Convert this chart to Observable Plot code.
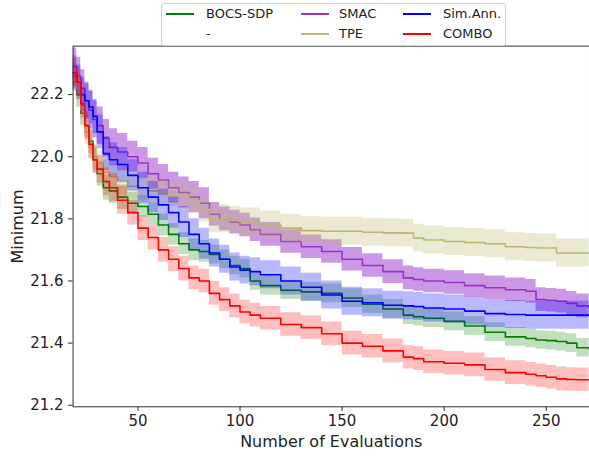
<!DOCTYPE html>
<html><head><meta charset="utf-8">
<script src="https://cdn.jsdelivr.net/npm/d3@7"></script>
<script src="https://cdn.jsdelivr.net/npm/@observablehq/plot@0.6"></script>
<style>
html,body{margin:0;padding:0;background:#fff;overflow:hidden;width:589px;height:456px}
#wrap{position:relative;width:589px;height:456px;overflow:hidden}
#legend{position:absolute;left:161px;top:2.5px;width:345px;height:43px;border:1px solid #d0d0d0;border-radius:3px;background:rgba(255,255,255,0.9);box-sizing:border-box;font-family:"DejaVu Sans";font-size:13px;color:#222}
.sw{position:absolute;width:28px;height:2px}
.lt{position:absolute;line-height:16px;white-space:nowrap}
svg g[aria-label="x-axis label"] text, svg g[aria-label="y-axis label"] text{font-size:16px}
</style></head>
<body><div id="wrap"><div id="chart"></div><div id="legend"></div></div>
<script>
const xs = [18,20,22,24,26,28,30,33,36,40,45,50,55,60,65,70,75,80,85,90,95,100,105,110,120,130,140,150,160,170,180,185,190,200,210,220,230,240,245,250,255,260,265,271];

const bocsMean = [22.26,22.20,22.14,22.10,22.05,21.99,21.945,21.90,21.89,21.87,21.85,21.84,21.815,21.78,21.75,21.72,21.70,21.695,21.685,21.67,21.65,21.64,21.60,21.585,21.57,21.565,21.56,21.545,21.525,21.51,21.49,21.485,21.48,21.47,21.455,21.435,21.42,21.415,21.41,21.408,21.405,21.40,21.385,21.38];
const bocsSpread = [0.04,0.04,0.04,0.04,0.04,0.04,0.04,0.04,0.04,0.04,0.035,0.035,0.035,0.035,0.035,0.035,0.035,0.035,0.03,0.03,0.03,0.03,0.03,0.03,0.03,0.03,0.03,0.03,0.03,0.03,0.03,0.03,0.03,0.03,0.03,0.03,0.03,0.03,0.03,0.03,0.03,0.03,0.03,0.03];

const smacMean = [22.29,22.26,22.22,22.18,22.15,22.12,22.10,22.06,22.03,22.015,22.00,21.98,21.945,21.925,21.90,21.885,21.87,21.85,21.815,21.80,21.79,21.78,21.765,21.75,21.727,21.71,21.695,21.67,21.65,21.63,21.61,21.605,21.60,21.595,21.585,21.578,21.572,21.567,21.54,21.538,21.535,21.528,21.52,21.513];
const smacSpread = [0.06,0.06,0.06,0.06,0.06,0.06,0.06,0.06,0.06,0.06,0.05,0.05,0.05,0.05,0.05,0.05,0.05,0.05,0.038,0.038,0.038,0.038,0.038,0.038,0.038,0.038,0.038,0.038,0.038,0.038,0.038,0.038,0.038,0.038,0.038,0.038,0.038,0.038,0.038,0.038,0.038,0.038,0.038,0.038];

const tpeMean = [22.25,22.22,22.15,22.08,22.03,22.00,21.98,21.95,21.935,21.92,21.905,21.90,21.89,21.885,21.88,21.877,21.86,21.83,21.80,21.80,21.795,21.79,21.79,21.78,21.77,21.762,21.76,21.76,21.757,21.755,21.754,21.738,21.732,21.727,21.724,21.72,21.71,21.708,21.706,21.706,21.69,21.69,21.69,21.69];
const tpeSpread = [0.04,0.04,0.04,0.04,0.04,0.04,0.04,0.04,0.04,0.04,0.04,0.04,0.04,0.04,0.04,0.04,0.04,0.04,0.045,0.045,0.045,0.045,0.045,0.045,0.045,0.045,0.045,0.045,0.045,0.045,0.045,0.045,0.045,0.045,0.045,0.045,0.045,0.045,0.045,0.045,0.045,0.045,0.045,0.045];

const saMean = [22.27,22.24,22.20,22.18,22.16,22.13,22.08,22.01,21.99,21.975,21.94,21.90,21.87,21.845,21.82,21.79,21.75,21.72,21.69,21.67,21.645,21.635,21.63,21.62,21.60,21.58,21.555,21.535,21.53,21.522,21.52,21.518,21.513,21.51,21.503,21.495,21.492,21.49,21.49,21.49,21.49,21.49,21.49,21.49];
const saSpread = [0.055,0.055,0.055,0.055,0.055,0.055,0.055,0.055,0.055,0.055,0.05,0.05,0.05,0.05,0.05,0.05,0.05,0.05,0.045,0.045,0.045,0.045,0.045,0.045,0.045,0.045,0.045,0.045,0.045,0.045,0.045,0.045,0.045,0.045,0.045,0.045,0.045,0.045,0.045,0.045,0.045,0.045,0.045,0.045];

const comboMean = [22.27,22.24,22.17,22.10,22.04,21.99,21.96,21.92,21.90,21.86,21.82,21.77,21.74,21.70,21.67,21.64,21.61,21.60,21.56,21.54,21.52,21.50,21.49,21.48,21.46,21.45,21.43,21.40,21.39,21.375,21.355,21.35,21.34,21.335,21.33,21.315,21.305,21.30,21.295,21.29,21.285,21.283,21.282,21.282];
const comboSpread = [0.045,0.045,0.045,0.045,0.045,0.045,0.045,0.045,0.045,0.045,0.04,0.04,0.04,0.04,0.04,0.04,0.038,0.038,0.038,0.038,0.038,0.038,0.038,0.038,0.038,0.038,0.038,0.038,0.038,0.038,0.038,0.038,0.038,0.038,0.038,0.038,0.038,0.038,0.038,0.038,0.038,0.038,0.038,0.038];

const yTicks = [21.2,21.4,21.6,21.8,22.0,22.2];
const xTicks = [50,100,150,200,250];

const series = [
  {name:"BOCS-SDP", color:"#008000", alpha:0.25, mean:bocsMean, spread:bocsSpread},
  {name:"SMAC", color:"#9932cc", alpha:0.5, mean:smacMean, spread:smacSpread},
  {name:"TPE", color:"#bdb76b", alpha:0.3, mean:tpeMean, spread:tpeSpread},
  {name:"Sim.Ann.", color:"#0000ff", alpha:0.28, mean:saMean, spread:saSpread},
  {name:"COMBO", color:"#ff0000", alpha:0.25, mean:comboMean, spread:comboSpread}
];

const marks = [];
for (const s of series) {
  const rows = xs.map((x,i)=>({x, y:s.mean[i], lo:s.mean[i]-s.spread[i], hi:s.mean[i]+s.spread[i]}));
  marks.push(Plot.areaY(rows, {x:"x", y1:"lo", y2:"hi", fill:s.color, fillOpacity:s.alpha, curve:"step-after", clip:true}));
  marks.push(Plot.lineY(rows, {x:"x", y:"y", stroke:s.color, strokeWidth:1.6, curve:"step-after", clip:true}));
}
marks.push(Plot.frame({stroke:"#333", strokeWidth:1}));
marks.push(Plot.axisX({ticks:xTicks, tickSize:4.5, tickPadding:4.5, fontSize:15, label:"Number of Evaluations", labelAnchor:"center", labelOffset:40, labelArrow:"none"}));
marks.push(Plot.axisY({ticks:yTicks, tickFormat:d=>d.toFixed(1), tickSize:4.5, tickPadding:5, fontSize:15, label:"Minimum", labelAnchor:"center", labelOffset:62, labelArrow:"none"}));

const chart = Plot.plot({
  width:590, height:456,
  marginLeft:72.7, marginRight:0, marginTop:45.7, marginBottom:49,
  x:{domain:[18.22, 271.2]},
  y:{domain:[21.195, 22.356]},
  style:{fontFamily:"DejaVu Sans", fontSize:"15px", color:"#222", background:"#fff"},
  marks
});
document.getElementById("chart").appendChild(chart);

// legend (matplotlib column-major order, 3 columns x 2 rows)
const legendItems = [
  {name:"BOCS-SDP", color:"#008000", col:0, row:0},
  {name:"-", color:null, col:0, row:1},
  {name:"SMAC", color:"#9932cc", col:1, row:0},
  {name:"TPE", color:"#bdb76b", col:1, row:1},
  {name:"Sim.Ann.", color:"#0000ff", col:2, row:0},
  {name:"COMBO", color:"#ff0000", col:2, row:1}
];
const colLine = [4, 139, 241], colText = [44, 177, 281], rowY = [10.5, 30.5];
const lg = document.getElementById("legend");
for (const it of legendItems) {
  if (it.color) {
    const sw = document.createElement("div");
    sw.className = "sw";
    sw.style.left = colLine[it.col] + "px";
    sw.style.top = (rowY[it.row] - 1) + "px";
    sw.style.background = it.color;
    lg.appendChild(sw);
  }
  const t = document.createElement("div");
  t.className = "lt";
  t.style.left = colText[it.col] + "px";
  t.style.top = (rowY[it.row] - 8) + "px";
  t.textContent = it.name;
  lg.appendChild(t);
}
</script></body></html>
